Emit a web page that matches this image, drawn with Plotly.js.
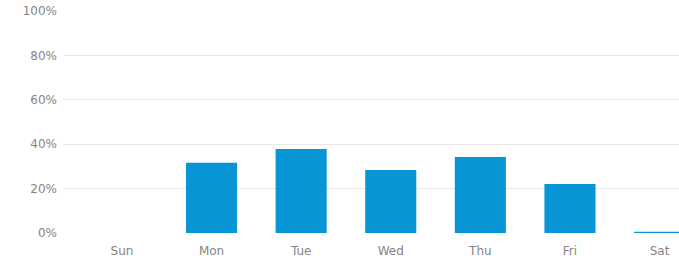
<!DOCTYPE html>
<html>
<head>
<meta charset="utf-8">
<script src="https://cdn.plot.ly/plotly-3.0.1.min.js"></script>
<style>html,body{margin:0;padding:0;background:#fff;}#chart{width:679px;height:259px;}</style>
</head>
<body>
<div id="chart"></div>
<script>
const days = ["Sun", "Mon", "Tue", "Wed", "Thu", "Fri", "Sat"];
const shares = [0, 0.317, 0.378, 0.284, 0.342, 0.221, 0.006];
const yTickVals = [0, 0.2, 0.4, 0.6, 0.8, 1.0];
const yTickText = ["0%", "20%", "40%", "60%", "80%", "100%"];

const trace = {
  type: "bar",
  x: days,
  y: shares,
  width: 0.57,
  marker: {color: "#0895d6"},
  hoverinfo: "skip"
};

const layout = {
  width: 679,
  height: 259,
  margin: {l: 63, r: 0, t: 11, b: 26, pad: 0},
  paper_bgcolor: "#fff",
  plot_bgcolor: "#fff",
  showlegend: false,
  font: {family: "DejaVu Sans, sans-serif", size: 12, color: "#858585"},
  xaxis: {
    type: "category",
    range: [-0.658, 6.217],
    showgrid: false,
    zeroline: false,
    showline: false,
    ticks: "",
    ticklabelstandoff: 9,
    tickfont: {size: 12, color: "#858585"}
  },
  yaxis: {
    range: [0, 1],
    tickvals: yTickVals,
    ticktext: yTickText,
    showgrid: true,
    gridcolor: "#e8e8e8",
    gridwidth: 1,
    zeroline: false,
    showline: false,
    ticks: "",
    ticklabelstandoff: 5,
    tickfont: {size: 12, color: "#858585"}
  },
  bargap: 0.4
};

Plotly.newPlot("chart", [trace], layout, {displayModeBar: false, staticPlot: true});
</script>
</body>
</html>
